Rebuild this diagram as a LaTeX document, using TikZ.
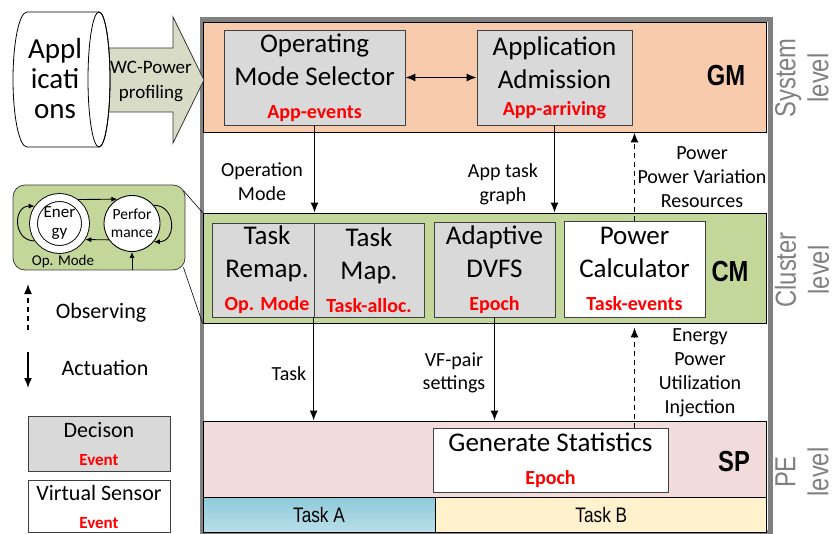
\documentclass[tikz,border=0pt]{standalone}
\usepackage{fontspec}
\setmainfont{Carlito}
\newfontfamily\narrowfont[FakeStretch=0.82]{Liberation Sans}
\usetikzlibrary{arrows.meta,positioning}
\definecolor{gmfill}{HTML}{F8CBAD}
\definecolor{cmfill}{HTML}{C4D79B}
\definecolor{spfill}{HTML}{F2DCDB}
\definecolor{unitfill}{HTML}{D9D9D9}
\definecolor{wcfill}{HTML}{D8DCC6}
\definecolor{taskatop}{HTML}{8ECADA}
\definecolor{taskabot}{HTML}{B9DFE9}
\definecolor{taskbfill}{HTML}{FFF2CC}
\definecolor{framegray}{HTML}{808080}
\definecolor{evred}{HTML}{FF0000}
\newcommand\evt[2][20]{{\fontsize{#1}{#1}\selectfont\bfseries\color{evred}#2}}

\begin{document}
\begin{tikzpicture}[
  x=1pt, y=-1pt,
  band/.style={draw=black, line width=0.8pt, inner sep=0pt},
  unit/.style={draw=black!75, line width=0.8pt, fill=unitfill, align=center,
               inner sep=1pt, font=\fontsize{27}{33}\selectfont},
  sensor/.style={unit, fill=white},
  bandname/.style={font=\narrowfont\bfseries\fontsize{29}{33}\selectfont},
  levelname/.style={rotate=90, align=center, text=black!50, inner sep=0pt,
                    font=\narrowfont\fontsize{29}{33}\selectfont},
  note/.style={align=center, font=\fontsize{20}{24}\selectfont},
  act/.style={-{Latex[length=10pt,width=8pt]}, line width=1.5pt},
  obs/.style={act, dash pattern=on 5pt off 4pt},
  tiny/.style={-{Latex[length=6pt,width=5pt]}, line width=0.9pt},
  mode/.style={circle, draw, line width=0.9pt, fill=white, inner sep=0pt, align=center},
]
  \useasboundingbox (0,0) rectangle (834,534);

  \draw[framegray, line width=4.5pt, fill=white] (202,19.5) rectangle (770.5,532);

  \node[band, fill=gmfill, minimum width=563pt, minimum height=110pt] (gm) at (484.5,77) {};
  \node[band, fill=cmfill, minimum width=563pt, minimum height=110pt] (cm) at (484.5,268) {};
  \node[band, fill=spfill, minimum width=563pt, minimum height=76pt] (sp) at (484.5,459) {};
  \node[band, top color=taskatop, bottom color=taskabot, minimum width=232pt, minimum height=35pt,
        font=\narrowfont\fontsize{21}{24}\selectfont] (taska) at (319,514.5) {Task A};
  \node[band, fill=taskbfill, minimum width=331pt, minimum height=35pt,
        font=\narrowfont\fontsize{21}{24}\selectfont, right=0pt of taska] (taskb) {Task B};

  \node[bandname] (gmname) at (726,76) {GM};
  \node[bandname] (cmname) at (730,272) {CM};
  \node[bandname] (spname) at (734,462) {SP};

  \node[unit, minimum width=181pt, minimum height=95pt] (oms) at (314.5,77.5)
    {Operating\\Mode Selector\\\evt{App-events}};
  \node[unit, minimum width=155pt, minimum height=95pt] (aa) at (554.5,77.5)
    {Application\\Admission\\[-6pt]\evt{App-arriving}};
  \node[unit, minimum width=110pt, minimum height=94pt] (remap) at (267,270)
    {Task\\Remap.\\\evt{Op. Mode}};
  \node[unit, minimum width=110pt, minimum height=94pt] (tmap) at (369,270)
    {Task\\Map.\\\evt{Task-alloc.}};
  \node[unit, minimum width=121pt, minimum height=95pt] (dvfs) at (494.5,269.5)
    {Adaptive\\DVFS\\\evt{Epoch}};
  \node[sensor, minimum width=141pt, minimum height=96pt] (pc) at (634.5,269)
    {Power\\Calculator\\\evt{Task-events}};
  \node[sensor, minimum width=235pt, minimum height=64pt] (gs) at (550.5,460)
    {Generate Statistics\\\evt{Epoch}};

  \draw[act, {Latex[length=10pt,width=8pt]}-{Latex[length=10pt,width=8pt]}] (oms.east) -- (aa.west);
  \draw[act] (oms.south) -- (oms.south |- cm.north);
  \draw[act] (aa.south) -- (aa.south |- cm.north);
  \draw[obs] (pc.north) -- (pc.north |- gm.south);
  \draw[act] (tmap.south west) -- (tmap.south west |- sp.north);
  \draw[act] (dvfs.south) -- (dvfs.south |- sp.north);
  \draw[obs, shorten >=4pt] (gs.north -| pc.south) -- (pc.south |- cm.south);

  \node[note] (opmlbl) at (262,182) {Operation\\Mode};
  \node[note] (graphlbl) at (503,184) {App task\\graph};
  \node[note] (pwrlbl) at (702,177) {Power\\Power Variation\\Resources};
  \node[note] (tasklbl) at (289,374) {Task};
  \node[note, font=\fontsize{20}{23}\selectfont] (vflbl) at (454,373) {VF-pair\\settings};
  \node[note] (statlbl) at (700,373) {Energy\\Power\\Utilization\\Injection};

  \node[levelname] (syslvl) at (802,78) {System\\level};
  \node[levelname] (clulvl) at (802,270) {Cluster\\level};
  \node[levelname] (pelvl) at (802,472) {PE\\level};

  \draw[black!80, line width=0.8pt, fill=wcfill]
    (100,48) -- (173,48) -- (173,17) -- (204,80) -- (173,143) -- (173,112) -- (100,112) -- cycle;
  \draw[line width=0.8pt, fill=white]
    (99,12) -- (27,12) arc[start angle=-90, end angle=-270, x radius=14, y radius=67.5]
    -- (99,147) arc[start angle=90, end angle=-90, x radius=11, y radius=67.5] -- cycle;
  \draw[line width=0.8pt] (99,79.5) ellipse[x radius=11, y radius=67.5];
  \node[align=center, font=\fontsize{29}{30}\selectfont] (apps) at (55,79) {Appl\\icati\\ons};
  \node[align=center, font=\fontsize{19}{25}\selectfont] (wcp) at (151,81) {WC-Power\\profiling};

  \node[draw=black!75, fill=cmfill, line width=0.8pt, rounded corners=12pt,
        minimum width=172pt, minimum height=85pt] (opbox) at (99,227.5) {};
  \draw[line width=0.6pt] ([xshift=-2pt,yshift=-6pt]opbox.north east) -- (cm.north west);
  \draw[line width=0.6pt] ([xshift=-2pt,yshift=3pt]opbox.south east) -- (cm.south west);
  \node[mode, double, double distance=7pt, minimum size=52pt, outer sep=4.4pt,
        font=\fontsize{17}{19}\selectfont] (en) at (59.5,223.5) {Ener\\gy};
  \node[mode, minimum size=56pt, font=\fontsize{15.5}{18}\selectfont] (pf) at (132,223.5) {Perfor\\mance};
  \node[font=\fontsize{15}{18}\selectfont] (oplbl) at (63,262) {Op. Mode};
  \draw[tiny] (en.52) -- (pf.121);
  \draw[tiny] (pf.-145) -- (en.-32);
  \draw[tiny] (en.-145) to[out=180, in=180, looseness=1.6] (en.145);
  \draw[tiny] (pf.40) to[out=0, in=0, looseness=1.6] (pf.-40);
  \draw[tiny] (opbox.south -| pf) -- (pf.south);

  \coordinate (obsfrom) at (28,330);
  \coordinate (obsto) at (28,284);
  \coordinate (actfrom) at (28,352);
  \coordinate (actto) at (28,388);
  \draw[obs] (obsfrom) -- (obsto);
  \draw[act] (actfrom) -- (actto);
  \node[font=\fontsize{22}{26}\selectfont] (obslbl) at (101,313) {Observing};
  \node[font=\fontsize{22}{26}\selectfont] (actlbl) at (105,368) {Actuation};

  \node[unit, font=\fontsize{22}{28}\selectfont, minimum width=142pt, minimum height=55pt]
    (dec) at (99,443.5) {Decison\\\evt[17]{Event}};
  \node[sensor, font=\fontsize{22}{28}\selectfont, minimum width=142pt, minimum height=52pt,
        below=9pt of dec] (vsen) {Virtual Sensor\\\evt[17]{Event}};
\end{tikzpicture}
\end{document}
